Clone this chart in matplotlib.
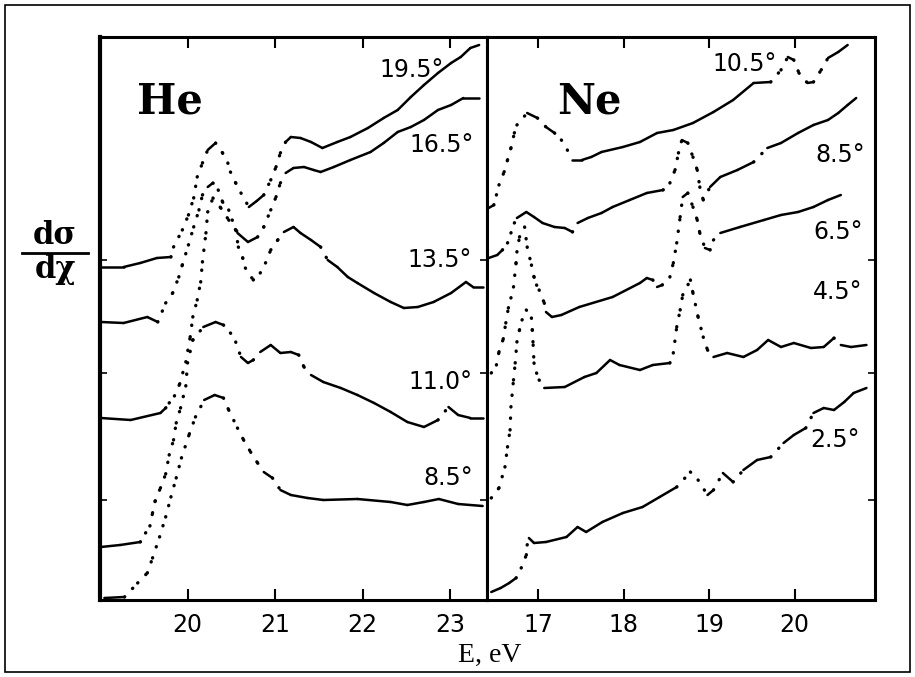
import numpy as np
import matplotlib
matplotlib.use('Agg')
import matplotlib.pyplot as plt
from matplotlib.collections import LineCollection
from matplotlib.patches import Rectangle
from matplotlib.lines import Line2D

# ---- He panel: energy (eV) and intensity (arb. units) per scattering angle
he_195_E = [19.01, 19.27, 19.46, 19.65, 19.81, 19.84, 19.94, 20.01, 20.07, 20.11, 20.17, 20.23, 20.32,
            20.40, 20.46, 20.49, 20.55, 20.61, 20.70, 20.79, 20.87, 20.95, 21.01, 21.06, 21.12, 21.18,
            21.29, 21.41, 21.54, 21.71, 21.86, 22.06, 22.24, 22.40, 22.55, 22.70, 22.86, 23.01, 23.12,
            23.23, 23.33]
he_195_I = [333, 333, 337, 342, 343, 353, 370, 385, 402, 423, 437, 450, 457,
            447, 437, 428, 417, 407, 393, 399, 405, 420, 433, 447, 458, 463,
            462, 458, 452, 458, 463, 472, 482, 490, 503, 515, 527, 537, 543,
            552, 555]

he_165_E = [19.01, 19.27, 19.54, 19.66, 19.75, 19.83, 19.90, 19.94, 20.01, 20.07, 20.13, 20.17, 20.23,
            20.29, 20.35, 20.40, 20.47, 20.51, 20.57, 20.69, 20.80, 20.87, 20.95, 21.01, 21.06, 21.12,
            21.21, 21.33, 21.44, 21.52, 21.67, 21.86, 22.09, 22.24, 22.40, 22.55, 22.70, 22.86, 23.01,
            23.15, 23.33]
he_165_I = [278, 277, 283, 278, 297, 307, 323, 335, 355, 373, 390, 405, 413,
            417, 410, 398, 390, 380, 367, 358, 363, 373, 390, 403, 417, 427,
            432, 433, 430, 428, 433, 440, 448, 457, 468, 473, 480, 490, 495,
            502, 502]

he_135_E = [19.01, 19.35, 19.69, 19.75, 19.79, 19.85, 19.91, 19.98, 20.03, 20.06, 20.11, 20.15, 20.17,
            20.21, 20.23, 20.29, 20.38, 20.47, 20.55, 20.58, 20.63, 20.66, 20.75, 20.83, 20.89, 20.95,
            21.03, 21.10, 21.21, 21.29, 21.41, 21.52, 21.60, 21.71, 21.83, 21.94, 22.13, 22.32, 22.47,
            22.63, 22.81, 23.01, 23.18, 23.26, 23.37]
he_135_I = [182, 180, 187, 192, 197, 204, 216, 238, 263, 283, 300, 318, 338,
            367, 388, 402, 392, 380, 370, 353, 342, 332, 320, 327, 337, 350,
            360, 368, 373, 367, 360, 353, 340, 333, 323, 317, 307, 298, 292,
            293, 298, 307, 318, 313, 313]

he_110_E = [19.01, 19.23, 19.46, 19.52, 19.57, 19.60, 19.63, 19.69, 19.75, 19.79, 19.84, 19.87, 19.92,
            19.98, 20.00, 20.06, 20.18, 20.32, 20.41, 20.49, 20.55, 20.61, 20.69, 20.75, 20.83, 20.95,
            21.06, 21.18, 21.27, 21.33, 21.41, 21.55, 21.75, 21.94, 22.13, 22.32, 22.51, 22.70, 22.86,
            22.98, 23.09, 23.23, 23.37]
he_110_I = [53, 55, 58, 67, 74, 87, 99, 112, 126, 145, 160, 177, 192,
            214, 237, 260, 273, 278, 275, 267, 258, 243, 237, 240, 248, 255,
            247, 248, 245, 233, 225, 218, 212, 205, 197, 188, 178, 173, 180,
            193, 185, 182, 182]

he_85_E = [19.05, 19.28, 19.43, 19.54, 19.60, 19.68, 19.75, 19.81, 19.87, 19.93, 20.02, 20.09, 20.19,
           20.31, 20.41, 20.47, 20.57, 20.64, 20.72, 20.80, 20.87, 20.97, 21.06, 21.18, 21.37, 21.55,
           21.94, 22.32, 22.51, 22.70, 22.87, 23.09, 23.37]
he_85_I = [2, 3, 17, 27, 42, 63, 83, 103, 122, 142, 166, 183, 200,
           205, 202, 190, 172, 160, 148, 137, 128, 122, 110, 105, 102, 100,
           101, 98, 95, 98, 101, 96, 94]

# ---- Ne panel
ne_105_E = [16.42, 16.48, 16.51, 16.54, 16.60, 16.64, 16.68, 16.72, 16.75, 16.87, 16.99, 17.09, 17.19,
            17.27, 17.34, 17.40, 17.51, 17.62, 17.74, 17.99, 18.19, 18.39, 18.58, 18.81, 19.05, 19.28,
            19.52, 19.72, 19.84, 19.92, 19.99, 20.05, 20.15, 20.22, 20.31, 20.39, 20.51, 20.62]
ne_105_I = [392, 395, 405, 415, 428, 440, 452, 467, 475, 487, 482, 473, 467,
            460, 450, 440, 440, 443, 448, 453, 458, 467, 470, 477, 488, 500,
            517, 518, 530, 543, 540, 527, 517, 518, 530, 542, 548, 555]

ne_85_E = [16.42, 16.52, 16.58, 16.64, 16.68, 16.72, 16.75, 16.86, 16.95, 17.05, 17.19, 17.31, 17.40,
           17.46, 17.58, 17.74, 17.87, 18.07, 18.27, 18.46, 18.54, 18.60, 18.64, 18.68, 18.75, 18.81,
           18.86, 18.89, 18.93, 19.01, 19.13, 19.33, 19.52, 19.68, 19.84, 20.04, 20.22, 20.39, 20.51,
           20.62, 20.72]
ne_85_I = [342, 345, 350, 357, 367, 377, 382, 388, 383, 377, 373, 372, 368,
           377, 382, 387, 393, 400, 407, 410, 417, 430, 447, 460, 457, 443,
           430, 413, 400, 413, 423, 430, 438, 452, 457, 467, 475, 480, 487,
           495, 502]

ne_65_E = [16.45, 16.51, 16.54, 16.59, 16.62, 16.65, 16.68, 16.71, 16.74, 16.75, 16.78, 16.84, 16.87,
           16.92, 16.95, 16.98, 17.01, 17.07, 17.09, 17.16, 17.27, 17.48, 17.87, 18.19, 18.27, 18.34,
           18.39, 18.45, 18.54, 18.58, 18.62, 18.66, 18.69, 18.75, 18.81, 18.86, 18.89, 18.95, 19.01,
           19.05, 19.13, 19.36, 19.64, 19.84, 20.04, 20.22, 20.39, 20.54]
ne_65_I = [227, 235, 248, 261, 277, 292, 302, 313, 337, 348, 363, 373, 353,
           335, 323, 315, 310, 297, 288, 283, 285, 293, 303, 317, 322, 320,
           313, 315, 323, 337, 357, 383, 403, 407, 393, 380, 367, 352, 350,
           360, 367, 373, 380, 385, 388, 393, 400, 405]

ne_45_E = [16.45, 16.54, 16.61, 16.64, 16.67, 16.68, 16.71, 16.73, 16.75, 16.78, 16.81, 16.86, 16.92,
           16.93, 16.94, 16.95, 16.98, 17.01, 17.07, 17.31, 17.54, 17.68, 17.84, 17.95, 18.19, 18.34,
           18.54, 18.58, 18.62, 18.66, 18.69, 18.78, 18.81, 18.87, 18.93, 18.98, 19.05, 19.21, 19.40,
           19.56, 19.69, 19.84, 19.99, 20.19, 20.34, 20.46, 20.54, 20.66, 20.84]
ne_45_I = [102, 112, 133, 153, 170, 193, 220, 237, 258, 270, 280, 290, 282,
           270, 255, 237, 227, 220, 212, 213, 223, 227, 240, 235, 230, 235,
           237, 247, 273, 290, 305, 320, 307, 283, 263, 250, 243, 247, 243,
           250, 260, 253, 257, 252, 253, 262, 255, 253, 255]

ne_25_E = [16.45, 16.56, 16.66, 16.74, 16.80, 16.86, 16.87, 16.89, 16.95, 17.09, 17.33, 17.46, 17.56,
           17.75, 17.99, 18.22, 18.42, 18.62, 18.78, 18.87, 18.98, 19.05, 19.16, 19.28, 19.40, 19.56,
           19.72, 19.87, 19.99, 20.13, 20.22, 20.34, 20.46, 20.58, 20.69, 20.84]
ne_25_I = [8, 12, 17, 22, 32, 45, 55, 62, 57, 58, 63, 73, 68,
           78, 87, 93, 103, 113, 128, 120, 105, 110, 127, 118, 130, 140,
           143, 157, 165, 172, 187, 192, 190, 198, 207, 212]

he_ticks = [20, 21, 22, 23]
ne_ticks = [17, 18, 19, 20]

W, H = 915, 677
fig = plt.figure(figsize=(W / 100, H / 100), dpi=100)


def fx(px):
    return px / W


def fy(py):
    return 1 - py / H


def trace(ax, E, I, ppe):
    # steep parts of the scan appear as separate dots, flat parts as a line
    E = np.asarray(E, float)
    I = np.asarray(I, float)
    segs = np.stack([np.column_stack([E[:-1], I[:-1]]),
                     np.column_stack([E[1:], I[1:]])], axis=1)
    steep = np.abs(np.diff(I)) > 1.0 * np.abs(np.diff(E)) * ppe
    ax.add_collection(LineCollection(segs[~steep], colors='k', linewidths=1.8,
                                     capstyle='round', joinstyle='round'))
    ax.add_collection(LineCollection(segs[steep], colors='k', linewidths=2.4,
                                     linestyles=[(0, (0.1, 3.4))], capstyle='round'))


ax1 = fig.add_axes([fx(100), fy(600), fx(387), 563 / H])
ax2 = fig.add_axes([fx(487), fy(600), fx(388), 563 / H])

for E, I in [(he_195_E, he_195_I), (he_165_E, he_165_I), (he_135_E, he_135_I),
             (he_110_E, he_110_I), (he_85_E, he_85_I)]:
    trace(ax1, E, I, 87.5)
for E, I in [(ne_105_E, ne_105_I), (ne_85_E, ne_85_I), (ne_65_E, ne_65_I),
             (ne_45_E, ne_45_I), (ne_25_E, ne_25_I)]:
    trace(ax2, E, I, 85)

ax1.set_xlim(19.0, 23.42)
ax2.set_xlim(16.40, 20.94)
for ax, ticks in [(ax1, he_ticks), (ax2, ne_ticks)]:
    ax.set_ylim(0, 563)
    ax.set_xticks(ticks)
    ax.set_yticks([100, 227, 340])
    ax.tick_params(axis='x', direction='in', top=True, length=8, width=1.5,
                   labelsize=17, pad=9)
    ax.tick_params(axis='y', direction='in', right=True, length=5, width=1.2,
                   labelleft=False)
    for s in ax.spines.values():
        s.set_linewidth(2.2)
ax1.spines['left'].set_linewidth(3)
ax2.tick_params(axis='y', left=False)

serif = 'DejaVu Serif'
ax1.text(0.095, 0.865, 'He', transform=ax1.transAxes, fontsize=30,
         fontweight='bold', family=serif)
ax2.text(0.18, 0.865, 'Ne', transform=ax2.transAxes, fontsize=30,
         fontweight='bold', family=serif)

labels = [('19.5°', 412, 70), ('16.5°', 442, 145), ('13.5°', 440, 260),
          ('11.0°', 440, 382), ('8.5°', 448, 478),
          ('10.5°', 745, 64), ('8.5°', 840, 155), ('6.5°', 838, 232),
          ('4.5°', 838, 292), ('2.5°', 835, 440)]
for t, px, py in labels:
    fig.text(fx(px), fy(py), t, fontsize=17, ha='center', va='center')

fig.text(fx(490), fy(655), 'E, eV', fontsize=20, family='Liberation Serif',
         ha='center', va='center')
fig.text(fx(55), fy(235), 'dσ', fontsize=22, family=serif, fontweight='bold',
         ha='center', va='center')
fig.text(fx(55), fy(270), 'dχ', fontsize=22, family=serif, fontweight='bold',
         ha='center', va='center')
fig.add_artist(Line2D([fx(22), fx(88)], [fy(253), fy(253)], color='k', lw=2))

fig.add_artist(Rectangle((fx(5), fy(672)), fx(905), 667 / H, fill=False,
                         ec='k', lw=1.2, transform=fig.transFigure))

plt.savefig('out.png', dpi=100)
